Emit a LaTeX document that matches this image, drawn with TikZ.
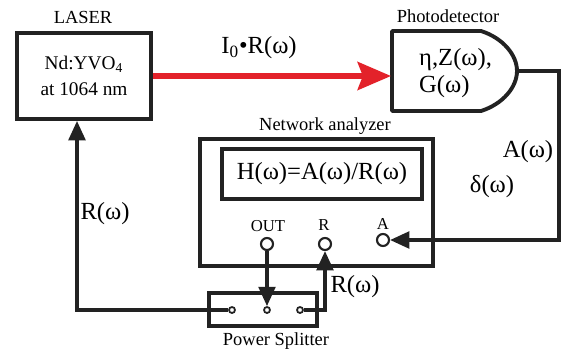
\documentclass[tikz,border=0pt]{standalone}
\usepackage{fontspec}
\setmainfont{Liberation Serif}
\usetikzlibrary{arrows.meta}

\newcommand{\lblfont}{\fontsize{10.5}{12}\selectfont}
\newcommand{\txtfont}{\fontsize{11}{11}\selectfont}
\newcommand{\bigfont}{\fontsize{14}{15}\selectfont}
\newcommand{\portfont}{\fontsize{9.5}{10}\selectfont}

\definecolor{ink}{HTML}{222222}
\definecolor{beam}{HTML}{E3222A}

\begin{document}
\begin{tikzpicture}[x=0.02cm, y=-0.02cm,
  box/.style={draw=ink, line width=2.2pt, inner sep=0pt},
  port/.style={circle, draw=ink, line width=1.2pt, fill=white, minimum size=0.24cm, inner sep=0pt},
  sport/.style={circle, draw=ink, line width=1pt, fill=white, minimum size=0.12cm, inner sep=0pt},
  sig/.style={draw=ink, line width=1.9pt, -{Triangle[length=11pt, width=9.5pt]}}]

\useasboundingbox (0,0) rectangle (562,353);

% Laser
\node[font=\lblfont] (laserlbl) at (83,17) {LASER};
\node[box, minimum width=2.68cm, minimum height=1.72cm, align=center, font=\txtfont] (laser) at (84,76) {Nd:YVO\textsubscript{4}\\[4pt]at 1064 nm};

% Photodetector (rounded right side)
\node[font=\lblfont] (pdlbl) at (448,16) {Photodetector};
\draw[box, line join=round] (392,31) -- (481,31) .. controls (503,38) and (517,55) .. (517,71)
  .. controls (517,87) and (503,104) .. (481,111) -- (392,111) -- cycle;
\coordinate (pdin) at (391,76);
\coordinate (pdout) at (517,71);
\node[anchor=west, align=left, font=\bigfont] (pd) at (413,73) {η,Z(ω),\\G(ω)};

% Beam
\draw[draw=beam, line width=2.9pt, -{Stealth[length=19pt, width=16pt, inset=3pt]}] (laser.east) -- (pdin);
\node[font=\bigfont] (beamlbl) at (259,48) {I\textsubscript{0}•R(ω)};

% Network analyzer
\node[font=\lblfont] (nalbl) at (325,126) {Network analyzer};
\node[box, minimum width=4.66cm, minimum height=2.54cm] (na) at (316.5,202.5) {};
\node[box, line width=1.8pt, minimum width=4cm, minimum height=1cm, font=\bigfont] (hbox) at (322,174) {H(ω)=A(ω)/R(ω)};
\node[port] (out) at (267,244) {};
\node[port] (r) at (325,244) {};
\node[port] (a) at (383,240) {};
\node[font=\portfont] at (268,226) {OUT};
\node[font=\portfont] at (324,225) {R};
\node[font=\portfont] at (383,224) {A};

% Power splitter
\node[box, line width=1.9pt, minimum width=2.16cm, minimum height=0.66cm] (ps) at (263,309.5) {};
\node[sport] (psl) at (232,310) {};
\node[sport] (psm) at (267,310) {};
\node[sport] (psr) at (300,310) {};
\node[font=\lblfont] (pslbl) at (276,341) {Power Splitter};

% Connections
\draw[sig] (out) -- (psm);
\draw[sig] (psr) -| (r);
\draw[sig] (psl) -| ([xshift=-0.14cm]laser.south);
\draw[sig] (pdout) -- ++(42,0) |- (a);

% Signal labels
\node[font=\bigfont] at (105,214) {R(ω)};
\node[font=\bigfont] at (355,287) {R(ω)};
\node[font=\bigfont] at (528,152) {A(ω)};
\node[font=\bigfont] at (492,187) {δ(ω)};

\end{tikzpicture}
\end{document}
